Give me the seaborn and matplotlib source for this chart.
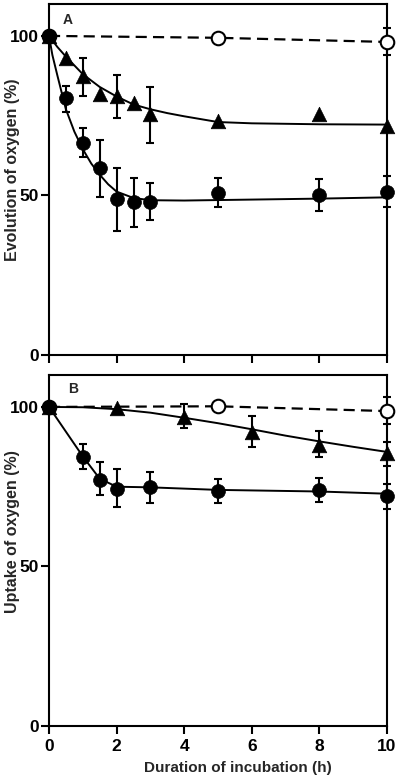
import numpy as np
import matplotlib
matplotlib.use("Agg")
import matplotlib.pyplot as plt
import seaborn as sns

# ---- panel A : evolution of oxygen ----
ctl_a_x = [0, 5, 10]
ctl_a_y = [100, 99.4, 98.1]
ctl_a_err_x = [10]
ctl_a_err_lo = [94.1]
ctl_a_err_hi = [102.5]

tri_a_x = [0, 0.5, 1.0, 1.5, 2.0, 2.5, 3.0, 5, 8, 10]
tri_a_y = [100, 93.1, 87.5, 81.9, 81.3, 79.1, 75.6, 73.4, 75.6, 71.9]
tri_a_err_x = [1.0, 2.0, 3.0]
tri_a_err_lo = [81.3, 74.4, 66.3]
tri_a_err_hi = [93.1, 87.8, 84.1]
tri_a_fit_x = [0, 0.25, 0.5, 1.0, 1.5, 2.0, 2.5, 3.0, 3.5, 4.0, 5, 6, 8, 10]
tri_a_fit_y = [100, 96.5, 93.5, 88, 84, 81, 78.5, 77, 75.8, 74.8, 73, 72.6, 72.3, 72.2]

cir_a_x = [0, 0.5, 1.0, 1.5, 2.0, 2.5, 3.0, 5, 8, 10]
cir_a_y = [100, 80.6, 66.3, 58.6, 49.0, 47.8, 47.8, 50.9, 50.0, 51.2]
cir_a_err_lo = [100, 76.3, 61.9, 49.4, 38.8, 40.0, 42.2, 46.3, 45.0, 46.3]
cir_a_err_hi = [100, 84.4, 71.0, 67.5, 58.6, 55.6, 53.8, 55.6, 55.0, 56.2]
cir_a_fit_x = [0, 0.1, 0.25, 0.5, 0.75, 1.0, 1.25, 1.5, 1.75, 2.0, 2.5, 3.0, 4, 6, 8, 10]
cir_a_fit_y = [100, 94, 87.5, 77, 70, 64.5, 60, 56.5, 53.5, 51.2, 49.2, 48.5, 48.4, 48.7, 49, 49.4]

# ---- panel B : uptake of oxygen ----
ctl_b_x = [0, 5, 10]
ctl_b_y = [100, 100.2, 98.7]
ctl_b_err_x = [10]
ctl_b_err_lo = [94.6]
ctl_b_err_hi = [103.0]

tri_b_x = [0, 2, 4, 6, 8, 10]
tri_b_y = [100, 99.7, 96.9, 92.1, 88.0, 85.5]
tri_b_err_x = [4, 6, 8, 10]
tri_b_err_lo = [93.4, 87.4, 84.3, 81.5]
tri_b_err_hi = [100.9, 97.2, 92.5, 89.0]
tri_b_fit_x = [0, 1, 2, 3, 4, 5, 6, 7, 8, 9, 10]
tri_b_fit_y = [100, 99.9, 99.3, 98.2, 96.6, 94.9, 93, 91, 89.2, 87.5, 85.9]

cir_b_x = [0, 1.0, 1.5, 2.0, 3.0, 5, 8, 10]
cir_b_y = [100, 84.3, 77.0, 74.2, 74.8, 73.6, 73.9, 72.0]
cir_b_err_lo = [100, 80.5, 72.3, 68.6, 69.8, 69.8, 70.1, 67.9]
cir_b_err_hi = [100, 88.4, 82.7, 80.5, 79.6, 77.4, 77.7, 75.8]
cir_b_fit_x = [0, 1.0, 1.5, 2.0, 3.0, 5, 8, 10]
cir_b_fit_y = [100, 84.5, 77.5, 75.0, 74.8, 74.0, 73.5, 72.8]

x_ticks = [0, 2, 4, 6, 8, 10]
y_ticks = [0, 50, 100]

sns.set_style("ticks")
plt.rcParams['font.family'] = ['Liberation Sans', 'DejaVu Sans']
plt.rcParams['font.weight'] = 'bold'

fig = plt.figure(figsize=(4, 7.8), dpi=100)
ax_a = fig.add_axes([0.1225, 0.5449, 0.845, 0.45])
ax_b = fig.add_axes([0.1225, 0.0692, 0.845, 0.45])


def errbars(ax, x, y, lo, hi):
    y = np.array(y)
    yerr = [y - np.array(lo), np.array(hi) - y]
    eb = ax.errorbar(x, y, yerr=yerr, fmt='none', ecolor='black',
                     elinewidth=1.5, capsize=3, capthick=1.5, zorder=2)
    for art in eb.lines[1] + eb.lines[2]:
        art.set_clip_on(False)


def panel(ax, ctl, ctl_err, tri, tri_err, tri_fit, cir, cir_err, cir_fit, dashed):
    # dashed control line
    sns.lineplot(x=dashed[0], y=dashed[1], ax=ax, color='black', lw=1.6,
                 linestyle=(0, (5, 2.8)), zorder=1)
    sns.lineplot(x=tri_fit[0], y=tri_fit[1], ax=ax, color='black', lw=1.4, zorder=1)
    sns.lineplot(x=cir_fit[0], y=cir_fit[1], ax=ax, color='black', lw=1.4, zorder=1)

    errbars(ax, *ctl_err)
    errbars(ax, *tri_err)
    errbars(ax, *cir_err)

    sns.scatterplot(x=ctl[0], y=ctl[1], ax=ax, marker='o', s=95, color='white',
                    edgecolor='black', linewidth=1.5, zorder=3, clip_on=False)
    sns.scatterplot(x=tri[0], y=tri[1], ax=ax, marker='^', s=110, color='black',
                    edgecolor='black', linewidth=0.5, zorder=4, clip_on=False)
    sns.scatterplot(x=cir[0], y=cir[1], ax=ax, marker='o', s=100, color='black',
                    edgecolor='black', linewidth=0.5, zorder=5, clip_on=False)

    ax.set_xlim(0, 10)
    ax.set_ylim(0, 110)
    ax.set_xticks(x_ticks)
    ax.set_yticks(y_ticks)
    for sp in ax.spines.values():
        sp.set_visible(True)
        sp.set_linewidth(1.5)
        sp.set_color('black')
    ax.tick_params(direction='out', length=6, width=1.5, labelsize=12.5,
                   pad=1, colors='black')
    for lab in ax.get_xticklabels() + ax.get_yticklabels():
        lab.set_fontweight('bold')


panel(ax_a,
      (ctl_a_x, ctl_a_y), (ctl_a_err_x, [ctl_a_y[-1]], ctl_a_err_lo, ctl_a_err_hi),
      (tri_a_x, tri_a_y),
      (tri_a_err_x, [tri_a_y[2], tri_a_y[4], tri_a_y[6]], tri_a_err_lo, tri_a_err_hi),
      (tri_a_fit_x, tri_a_fit_y),
      (cir_a_x, cir_a_y), (cir_a_x, cir_a_y, cir_a_err_lo, cir_a_err_hi),
      (cir_a_fit_x, cir_a_fit_y),
      (ctl_a_x, ctl_a_y))

panel(ax_b,
      (ctl_b_x, ctl_b_y), (ctl_b_err_x, [ctl_b_y[-1]], ctl_b_err_lo, ctl_b_err_hi),
      (tri_b_x, tri_b_y),
      (tri_b_err_x, tri_b_y[2:], tri_b_err_lo, tri_b_err_hi),
      (tri_b_fit_x, tri_b_fit_y),
      (cir_b_x, cir_b_y), (cir_b_x, cir_b_y, cir_b_err_lo, cir_b_err_hi),
      (cir_b_fit_x, cir_b_fit_y),
      (ctl_b_x, ctl_b_y))

ax_a.tick_params(axis='x', labelbottom=False)
ax_b.tick_params(axis='x', pad=3)

ax_a.set_ylabel('Evolution of oxygen (%)', fontsize=11.5, fontweight='bold')
ax_a.yaxis.set_label_coords(-0.086, 0.527)
ax_b.set_ylabel('Uptake of oxygen (%)', fontsize=11.5, fontweight='bold')
ax_b.yaxis.set_label_coords(-0.086, 0.553)
ax_a.set_xlabel('')
ax_b.set_xlabel('Duration of incubation (h)', fontsize=11, fontweight='bold')
ax_b.xaxis.set_label_coords(0.56, -0.1)

ax_a.text(0.056, 0.954, 'A', transform=ax_a.transAxes, ha='center', va='center',
          fontsize=10, fontweight='bold')
ax_b.text(0.071, 0.96, 'B', transform=ax_b.transAxes, ha='center', va='center',
          fontsize=10, fontweight='bold')

fig.savefig('out.png', dpi=100)
